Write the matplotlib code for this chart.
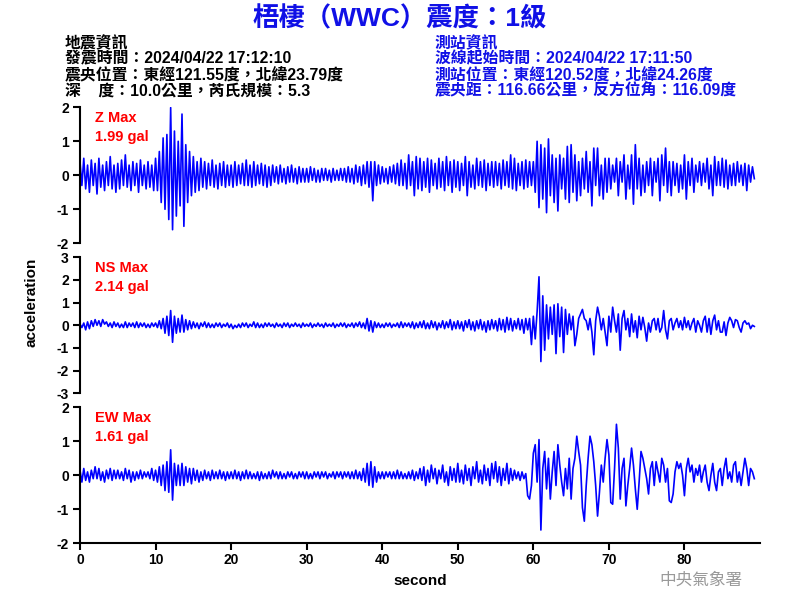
import numpy as np
import matplotlib
matplotlib.use("Agg")
import matplotlib.pyplot as plt

DT = 0.25  # seconds between samples

z_values = [
    0.4,-0.3,0.5,-0.4,0.3,-0.5,0.45,-0.3,0.35,-0.55,0.5,-0.35,0.3,-0.45,0.4,-0.3,0.55,-0.4,0.3,-0.5,
    0.35,-0.4,0.45,-0.3,0.6,-0.35,0.3,-0.45,0.4,-0.3,0.35,-0.5,0.45,-0.3,0.3,-0.4,0.4,-0.35,0.3,-0.45,
    0.5,-0.45,0.7,-0.8,1.1,-1.0,1.2,-1.3,1.99,-1.6,1.3,-1.2,1.0,-0.9,1.8,-1.5,0.9,-0.8,0.7,-0.6,
    0.55,-0.5,0.4,-0.45,0.5,-0.35,0.4,-0.4,0.35,-0.3,0.45,-0.35,0.3,-0.4,0.35,-0.3,0.4,-0.35,0.3,-0.3,
    0.3,-0.35,0.4,-0.3,0.3,-0.25,0.35,-0.3,0.45,-0.3,0.3,-0.35,0.4,-0.3,0.3,-0.25,0.35,-0.3,0.3,-0.35,
    0.25,-0.3,0.3,-0.2,0.25,-0.25,0.3,-0.2,0.2,-0.25,0.25,-0.2,0.3,-0.2,0.2,-0.25,0.25,-0.2,0.2,-0.2,
    0.2,-0.2,0.25,-0.15,0.2,-0.2,0.15,-0.2,0.2,-0.15,0.2,-0.15,0.15,-0.2,0.2,-0.15,0.15,-0.15,0.2,-0.15,
    0.2,-0.2,0.25,-0.2,0.2,-0.25,0.3,-0.2,0.25,-0.3,0.3,-0.25,0.4,-0.35,0.4,-0.75,0.4,-0.3,0.3,-0.25,
    0.25,-0.2,0.2,-0.25,0.25,-0.2,0.3,-0.25,0.35,-0.3,0.45,-0.3,0.35,-0.4,0.6,-0.3,0.4,-0.6,0.55,-0.4,
    0.5,-0.45,0.4,-0.35,0.5,-0.5,0.45,-0.3,0.35,-0.4,0.5,-0.35,0.4,-0.45,0.55,-0.3,0.4,-0.5,0.45,-0.35,
    0.4,-0.45,0.35,-0.3,0.55,-0.6,0.4,-0.35,0.3,-0.4,0.5,-0.3,0.4,-0.35,0.45,-0.45,0.35,-0.3,0.4,-0.35,
    0.4,-0.3,0.35,-0.4,0.45,-0.3,0.4,-0.35,0.6,-0.4,0.5,-0.45,0.35,-0.3,0.4,-0.4,0.45,-0.35,0.4,-0.3,
    0.4,-0.5,1.0,-0.95,0.9,-0.7,0.8,-1.1,1.07,-0.6,0.6,-0.8,0.5,-1.05,0.6,-0.4,0.5,-0.7,0.85,-0.8,
    0.9,-0.5,0.6,-0.75,0.4,-0.6,0.5,-0.4,0.7,-0.5,0.4,-0.9,0.8,-0.3,0.8,-0.6,0.3,-0.7,0.5,-0.5,
    0.5,-0.4,0.3,-0.2,0.5,-0.6,0.4,-0.2,0.6,-0.7,0.3,-0.4,0.6,-0.85,0.9,-0.4,0.5,-0.6,0.3,-0.5,
    0.4,-0.3,0.5,-0.6,0.4,-0.2,0.5,-0.75,0.6,-0.3,0.8,-0.5,0.4,-0.6,0.4,-0.3,0.35,-0.5,0.3,-0.4,
    0.6,-0.7,0.4,-0.3,0.5,-0.5,0.3,-0.2,0.4,-0.3,0.35,-0.2,0.5,-0.4,0.3,-0.6,0.55,-0.3,0.4,-0.3,
    0.5,-0.35,0.45,-0.4,0.3,-0.3,0.35,-0.3,0.4,-0.2,0.3,-0.3,0.35,-0.45,0.3,-0.2,0.25,-0.1,
]

ns_values = [
    0.05,-0.1,0.1,-0.2,0.15,-0.15,0.2,-0.05,0.25,0.0,0.2,-0.05,0.25,0.05,0.15,-0.05,0.1,-0.1,0.15,-0.05,
    0.1,-0.1,0.05,-0.1,0.15,-0.1,0.1,-0.05,0.1,-0.1,0.15,-0.1,0.1,-0.05,0.1,-0.1,0.05,-0.1,0.1,-0.05,
    0.1,-0.1,0.2,-0.15,0.3,-0.35,0.4,-0.45,0.65,-0.75,0.4,-0.35,0.3,-0.3,0.45,-0.3,0.25,-0.2,0.2,-0.15,
    0.15,-0.1,0.1,-0.15,0.1,-0.05,0.15,-0.1,0.1,-0.1,0.05,-0.1,0.1,-0.05,0.1,-0.1,0.05,-0.05,0.1,-0.1,
    0.05,-0.15,0.0,-0.1,0.05,-0.1,0.1,-0.05,0.1,-0.1,0.05,-0.05,0.15,-0.1,0.1,-0.1,0.05,-0.1,0.1,-0.05,
    0.1,-0.05,0.05,-0.1,0.1,-0.05,0.05,-0.1,0.1,-0.05,0.1,-0.1,0.05,-0.05,0.1,-0.05,0.05,-0.1,0.1,-0.05,
    0.05,-0.05,0.1,-0.1,0.05,-0.05,0.1,-0.05,0.05,-0.1,0.1,-0.05,0.05,-0.05,0.1,-0.1,0.05,-0.05,0.1,-0.05,
    0.1,-0.1,0.05,-0.05,0.1,-0.1,0.1,-0.05,0.15,-0.1,0.1,-0.15,0.3,-0.25,0.2,-0.3,0.15,-0.1,0.1,-0.1,
    0.05,-0.1,0.1,-0.05,0.1,-0.1,0.05,-0.05,0.1,-0.1,0.15,-0.1,0.1,-0.05,0.1,-0.1,0.15,-0.15,0.1,-0.1,
    0.15,-0.1,0.2,-0.15,0.1,-0.15,0.2,-0.1,0.15,-0.2,0.1,-0.1,0.2,-0.15,0.15,-0.1,0.25,-0.2,0.15,-0.15,
    0.2,-0.15,0.15,-0.25,0.2,-0.1,0.25,-0.2,0.15,-0.25,0.2,-0.15,0.25,-0.2,0.15,-0.3,0.2,-0.2,0.25,-0.15,
    0.2,-0.25,0.3,-0.2,0.25,-0.3,0.35,-0.2,0.3,-0.25,0.2,-0.15,0.3,-0.2,0.25,-0.35,0.3,-0.2,0.3,-0.85,
    0.4,-0.6,0.6,2.14,-1.6,1.3,-1.1,0.9,-0.6,0.8,-0.4,0.9,-1.25,0.95,-0.5,0.8,-1.2,0.7,-0.4,0.5,
    -0.2,0.4,-0.9,-0.4,0.3,0.5,0.7,0.3,0.2,-0.2,0.3,-0.3,-1.3,0.2,0.8,0.4,-0.2,0.3,-0.3,-0.9,
    0.4,-0.3,0.8,0.2,-0.3,0.5,-1.1,0.3,0.65,-0.2,0.3,-0.5,0.5,-0.3,0.2,-0.55,0.4,-0.2,0.35,-0.1,
    -0.7,0.1,-0.3,0.2,0.3,-0.2,0.3,-0.3,-0.1,0.65,-0.2,-0.6,0.2,0.3,-0.2,0.1,0.3,-0.1,0.2,-0.2,
    0.35,-0.1,0.2,-0.2,0.1,0.3,-0.3,0.2,0.0,-0.3,0.2,0.4,-0.3,0.3,-0.4,0.2,0.45,-0.2,0.2,-0.3,
    -0.3,0.15,-0.45,0.1,0.35,0.2,-0.1,0.25,0.2,-0.1,-0.3,0.1,0.2,0.05,0.1,-0.15,0.0,-0.05,
]

ew_values = [
    0.15,-0.2,0.2,-0.15,0.1,-0.2,0.15,-0.1,0.25,-0.1,0.2,-0.15,0.1,-0.2,0.15,-0.1,0.2,-0.15,0.15,-0.1,
    0.15,-0.1,0.1,-0.15,0.2,-0.1,0.15,-0.2,0.1,-0.15,0.1,-0.1,0.15,-0.1,0.1,-0.05,0.1,-0.1,0.2,-0.15,
    0.15,-0.2,0.25,-0.3,0.3,-0.45,0.4,-0.5,0.75,-0.73,0.35,-0.3,0.3,-0.3,0.35,-0.3,0.25,-0.2,0.2,-0.25,
    0.2,-0.15,0.15,-0.2,0.1,-0.15,0.15,-0.1,0.1,-0.15,0.15,-0.1,0.1,-0.1,0.15,-0.1,0.1,-0.15,0.1,-0.1,
    0.1,-0.1,0.15,-0.1,0.1,-0.15,0.1,-0.1,0.15,-0.1,0.1,-0.1,0.05,-0.1,0.1,-0.15,0.1,-0.1,0.05,-0.1,
    0.1,-0.1,0.15,-0.05,0.1,-0.1,0.1,-0.1,0.05,-0.1,0.1,-0.05,0.1,-0.1,0.05,-0.1,0.1,-0.05,0.1,-0.1,
    0.1,-0.1,0.05,-0.1,0.1,-0.05,0.1,-0.1,0.1,-0.05,0.1,-0.1,0.05,-0.05,0.1,-0.1,0.1,-0.05,0.1,-0.1,
    0.1,-0.05,0.1,-0.1,0.1,-0.1,0.15,-0.1,0.1,-0.15,0.2,-0.2,0.35,-0.3,0.4,-0.35,0.25,-0.2,0.1,-0.1,
    0.1,-0.1,0.1,-0.05,0.1,-0.1,0.1,-0.1,0.15,-0.1,0.1,-0.1,0.05,-0.1,0.1,-0.1,0.15,-0.15,0.1,-0.1,
    0.2,-0.15,0.25,-0.3,0.15,-0.2,0.3,-0.1,0.2,-0.25,0.15,-0.1,0.3,-0.2,0.1,-0.3,0.25,-0.15,0.2,-0.2,
    0.35,-0.2,0.15,-0.25,0.3,-0.15,0.2,-0.3,0.25,-0.1,0.4,-0.2,0.15,-0.25,0.3,-0.15,0.2,-0.3,0.35,-0.1,
    0.4,-0.2,0.25,-0.3,0.2,-0.15,0.35,-0.25,0.2,-0.15,0.15,-0.1,0.1,-0.15,0.1,-0.1,0.05,-0.6,-0.7,-0.3,
    0.65,0.9,-0.2,1.05,-1.61,0.2,0.7,-0.4,0.5,-0.7,0.1,0.7,-0.3,0.9,0.3,-0.2,-0.6,0.2,-0.4,0.5,
    -0.7,0.2,0.5,1.15,0.7,0.3,-0.95,-1.35,-0.3,0.5,1.15,0.9,0.4,-0.3,-1.2,-0.5,0.3,-0.2,0.5,1.05,
    0.6,-0.8,-0.85,0.2,1.5,0.8,-0.7,0.2,0.5,-0.9,-0.3,0.2,0.8,0.3,-0.4,-1.0,-0.2,0.7,0.5,0.2,
    -0.1,-0.55,0.2,0.4,-0.3,0.4,0.1,-0.2,0.5,0.3,-0.2,0.2,-0.75,-0.8,-0.55,0.1,0.4,0.2,0.35,0.0,
    -0.6,0.2,0.5,0.1,0.3,-0.2,0.2,0.0,0.3,-0.2,0.1,0.3,-0.2,-0.45,0.0,0.35,-0.2,-0.45,0.1,0.2,
    -0.3,0.2,0.5,-0.1,0.1,-0.2,0.3,0.4,-0.2,0.1,-0.3,0.1,0.5,0.2,-0.3,0.2,0.1,-0.1,
]

components = ["Z", "NS", "EW"]
max_labels = ["1.99 gal", "2.14 gal", "1.61 gal"]
y_limits = [2, 3, 2]
x_ticks = [0, 10, 20, 30, 40, 50, 60, 70, 80]

title = "梧棲（WWC）震度：1級"
left_info = ["地震資訊",
             "發震時間：2024/04/22 17:12:10",
             "震央位置：東經121.55度，北緯23.79度",
             "深    度：10.0公里，芮氏規模：5.3"]
right_info = ["測站資訊",
              "波線起始時間：2024/04/22 17:11:50",
              "測站位置：東經120.52度，北緯24.26度",
              "震央距：116.66公里，反方位角：116.09度"]

FAM = ["Liberation Sans", "Noto Sans CJK TC"]
plt.rcParams['font.family'] = FAM
plt.rcParams['axes.unicode_minus'] = False

fig = plt.figure(figsize=(8, 6), dpi=100)
series = [z_values, ns_values, ew_values]
bottoms = [0.5945, 0.3445, 0.0945]
H = 0.2267
for i, (vals, lim, bot) in enumerate(zip(series, y_limits, bottoms)):
    ax = fig.add_axes([0.1, bot, 0.85, H])
    t = np.arange(len(vals)) * DT
    ax.plot(t, vals, color="#0000FF", lw=1.2)
    ax.set_xlim(0, 90)
    ax.set_ylim(-lim, lim)
    ax.set_yticks(range(-lim, lim + 1))
    ax.spines['top'].set_visible(False)
    ax.spines['right'].set_visible(False)
    ax.spines['left'].set_linewidth(1.5)
    ax.tick_params(axis='y', direction='out', length=5, width=1.5, labelsize=10, pad=3)
    for lb in ax.get_yticklabels():
        lb.set_fontweight('bold')
    if i < 2:
        ax.spines['bottom'].set_visible(False)
        ax.set_xticks([])
    else:
        ax.spines['bottom'].set_linewidth(1.5)
        ax.set_xticks(x_ticks)
        ax.tick_params(axis='x', direction='out', length=5, width=1.5, labelsize=10, pad=2)
        for lb in ax.get_xticklabels():
            lb.set_fontweight('bold')
        ax.set_xlabel("second", fontsize=11, fontweight='bold', labelpad=5)
    top_px = 600 * (1 - (bot + H))
    fig.text(95 / 800, 1 - (top_px + 11) / 600, f"{components[i]} Max", color="red",
             fontsize=10.5, fontweight='bold', va='center', ha='left')
    fig.text(95 / 800, 1 - (top_px + 30) / 600, max_labels[i], color="red",
             fontsize=10.5, fontweight='bold', va='center', ha='left')

fig.text(0.5, 1 - 19 / 600, title, color="#1010E6", fontsize=19, fontweight='bold',
         ha='center', va='center')
for k, line in enumerate(left_info):
    fig.text(65 / 800, 1 - (43 + 16 * k) / 600, line, color="black", fontsize=11.4,
             fontweight='bold', ha='left', va='center')
for k, line in enumerate(right_info):
    fig.text(435 / 800, 1 - (43 + 16 * k) / 600, line, color="#1010E6", fontsize=11.4,
             fontweight='bold', ha='left', va='center')

fig.text(32 / 800, 1 - 302 / 600, "acceleration", rotation=90, fontsize=11,
         fontweight='bold', ha='center', va='center')
fig.text(701 / 800, 1 - 580 / 600, "中央氣象署", color="#999999", fontsize=12,
         family=["Noto Sans CJK TC"], ha='center', va='center')

fig.savefig("out.png", dpi=100)
